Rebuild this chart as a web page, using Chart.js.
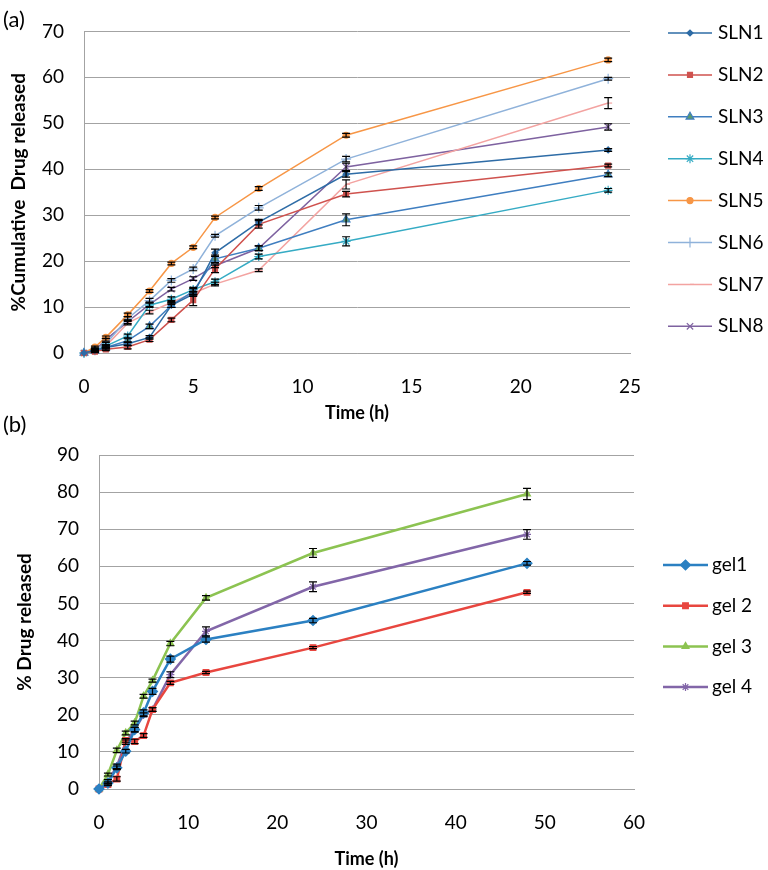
<!DOCTYPE html>
<html>
<head>
<meta charset="utf-8">
<script src="https://cdn.jsdelivr.net/npm/chart.js@4.4.1/dist/chart.umd.min.js"></script>
<style>
  html, body { margin: 0; padding: 0; background: #fff; }
  #wrap { position: relative; width: 768px; height: 870px; overflow: hidden; }
  canvas { position: absolute; left: 0; }
  #c1 { top: 0; }
  #c2 { top: 400px; }
</style>
</head>
<body>
<div id="wrap">
  <canvas id="c1" width="768" height="430"></canvas>
  <canvas id="c2" width="768" height="470"></canvas>
</div>
<script>
// ====== data (a): SLN release ======
const slnTime = [0, 0.5, 1, 2, 3, 4, 5, 6, 8, 12, 24];
const sln1 = [0, 0.6, 1.2, 2.0, 3.4, 10.4, 12.8, 21.8, 28.5, 38.9, 44.2];
const sln2 = [0, 0.3, 0.8, 1.3, 2.9, 7.2, 11.5, 18.3, 28.0, 34.6, 40.8];
const sln3 = [0, 0.5, 1.2, 2.7, 5.8, 10.4, 13.4, 20.5, 22.8, 29.0, 38.8];
const sln4 = [0, 0.5, 1.5, 3.7, 10.4, 11.7, 13.8, 15.5, 21.0, 24.3, 35.4];
const sln5 = [0, 1.3, 3.4, 8.3, 13.5, 19.5, 23.0, 29.5, 35.8, 47.4, 63.8];
const sln6 = [0, 0.8, 2.0, 7.5, 11.4, 15.8, 18.3, 25.5, 31.6, 42.2, 59.7];
const sln7 = [0, 0.4, 1.5, 6.5, 8.9, 11.0, 13.0, 15.0, 18.0, 36.7, 54.4];
const sln8 = [0, 0.6, 2.9, 6.8, 10.6, 13.9, 16.2, 19.0, 22.8, 40.5, 49.2];
const sln1Err = [0, 0.2, 0.3, 0.4, 0.4, 0.5, 0.5, 0.8, 0.6, 0.6, 0.3];
const sln2Err = [0, 0.2, 0.3, 0.4, 0.4, 0.4, 1.2, 0.8, 0.8, 0.6, 0.3];
const sln3Err = [0, 0.2, 0.3, 0.4, 0.5, 0.5, 0.6, 0.8, 0.5, 1.3, 0.4];
const sln4Err = [0, 0.2, 0.3, 0.4, 0.5, 0.5, 0.5, 0.6, 0.5, 1.0, 0.4];
const sln5Err = [0, 0.2, 0.3, 0.4, 0.3, 0.3, 0.3, 0.3, 0.4, 0.4, 0.4];
const sln6Err = [0, 0.2, 0.3, 0.4, 0.5, 0.4, 0.4, 0.3, 0.5, 0.6, 0.3];
const sln7Err = [0, 0.2, 0.3, 0.4, 0.4, 0.4, 0.4, 0.4, 0.3, 1.0, 1.2];
const sln8Err = [0, 0.2, 0.3, 0.4, 0.5, 0.4, 0.4, 0.4, 0.5, 0.8, 0.7];
const slnTicksX = { min: 0, max: 25, step: 5 };
const slnTicksY = { min: 0, max: 70, step: 10 };

// ====== data (b): gel release ======
const gelTime = [0, 1, 2, 3, 4, 5, 6, 8, 12, 24, 48];
const gel1 = [0, 1.6, 5.7, 10.2, 16.0, 20.5, 26.3, 35.0, 40.3, 45.4, 60.8];
const gel2 = [0, 1.2, 2.7, 13.1, 12.8, 14.4, 21.4, 28.6, 31.4, 38.1, 53.0];
const gel3 = [0, 3.9, 10.4, 15.1, 17.8, 25.0, 29.2, 39.2, 51.5, 63.6, 79.5];
const gel4 = [0, 2.0, 6.1, 12.6, 16.0, 20.0, 21.4, 30.8, 42.5, 54.5, 68.6];
const gel1Err = [0, 0.3, 0.5, 0.5, 0.6, 0.8, 0.8, 0.8, 0.7, 0.6, 0.5];
const gel2Err = [0, 0.3, 0.6, 0.5, 0.6, 0.5, 0.5, 0.4, 0.3, 0.3, 0.3];
const gel3Err = [0, 0.4, 0.6, 0.5, 0.5, 0.5, 0.4, 0.6, 0.6, 1.2, 1.5];
const gel4Err = [0, 0.5, 0.6, 0.6, 0.6, 0.5, 0.5, 0.8, 1.2, 1.3, 1.3];
const gelTicksX = { min: 0, max: 60, step: 10 };
const gelTicksY = { min: 0, max: 90, step: 10 };

// ====== helpers ======
const FONT = "Lato, 'Open Sans', sans-serif";
Chart.defaults.font.family = FONT;
Chart.defaults.color = '#000';
const GRID = '#a3a3a3';

const pts = (t, v) => t.map((x, i) => ({ x, y: v[i] }));

function series(label, t, v, err, color, style, radius, lineW, fill) {
  return {
    label, data: pts(t, v), errors: err,
    borderColor: color, backgroundColor: color, borderWidth: lineW,
    pointStyle: style, pointRadius: radius, pointHoverRadius: radius,
    pointBackgroundColor: fill || color, pointBorderColor: color, pointBorderWidth: 1.2,
    tension: 0, fill: false, clip: false
  };
}

// 誤差線
const errorBars = {
  id: 'errorBars',
  afterDatasetsDraw(chart, args, o) {
    const ctx = chart.ctx, ys = chart.scales.y;
    ctx.save();
    ctx.strokeStyle = '#000';
    ctx.lineWidth = o.width || 1.2;
    chart.data.datasets.forEach((ds, i) => {
      if (!ds.errors) return;
      chart.getDatasetMeta(i).data.forEach((p, j) => {
        const e = ds.errors[j];
        if (!e) return;
        const v = ds.data[j].y, c = o.cap || 4;
        const y1 = ys.getPixelForValue(v + e), y2 = ys.getPixelForValue(v - e);
        ctx.beginPath();
        ctx.moveTo(p.x, y1); ctx.lineTo(p.x, y2);
        ctx.moveTo(p.x - c, y1); ctx.lineTo(p.x + c, y1);
        ctx.moveTo(p.x - c, y2); ctx.lineTo(p.x + c, y2);
        ctx.stroke();
      });
    });
    ctx.restore();
  }
};

// 右側圖例（線 + 標記）
const sideLegend = {
  id: 'sideLegend',
  afterDraw(chart, args, o) {
    const ctx = chart.ctx;
    ctx.save();
    chart.data.datasets.forEach((ds, i) => {
      const y = o.top + i * o.step, mx = (o.x1 + o.x2) / 2;
      ctx.strokeStyle = ds.borderColor;
      ctx.lineWidth = ds.borderWidth;
      ctx.beginPath(); ctx.moveTo(o.x1, y); ctx.lineTo(o.x2, y); ctx.stroke();
      ctx.fillStyle = ds.pointBackgroundColor;
      ctx.strokeStyle = ds.pointBorderColor;
      ctx.lineWidth = ds.pointBorderWidth;
      Chart.helpers.drawPoint(ctx, { pointStyle: ds.pointStyle, radius: ds.pointRadius, borderWidth: ds.pointBorderWidth, rotation: 0 }, mx, y);
      ctx.fillStyle = '#000';
      ctx.font = o.font;
      ctx.textBaseline = 'middle';
      ctx.textAlign = 'left';
      ctx.fillText(ds.label, o.tx, y);
    });
    ctx.restore();
  }
};

// (a) / (b)
const panelTag = {
  id: 'panelTag',
  afterDraw(chart, args, o) {
    const ctx = chart.ctx;
    ctx.save();
    ctx.fillStyle = '#000';
    ctx.font = o.font;
    ctx.textBaseline = 'middle';
    ctx.textAlign = 'left';
    ctx.fillText(o.text, o.x, o.y);
    ctx.restore();
  }
};

function axes(tx, ty, xTitle, yTitle, xH, yW, xTitlePad, yTitlePad) {
  return {
    x: {
      type: 'linear', min: tx.min, max: tx.max,
      ticks: { stepSize: tx.step, padding: 22, font: { size: 19 }, color: '#000' },
      grid: { display: false, drawTicks: false },
      border: { color: GRID, width: 1 },
      title: { display: true, text: xTitle, color: '#000', font: { size: 18, weight: 'bold' }, padding: { top: 0, bottom: xTitlePad } },
      afterFit(s) { s.height = xH; }
    },
    y: {
      min: ty.min, max: ty.max,
      ticks: { stepSize: ty.step, padding: 20, font: { size: 19 }, color: '#000' },
      grid: { color: GRID, lineWidth: 1, drawTicks: false },
      border: { color: GRID, width: 1 },
      title: { display: true, text: yTitle, color: '#000', font: { size: 19, weight: 'bold' }, padding: { top: yTitlePad, bottom: 0 } },
      afterFit(s) { s.width = yW; }
    }
  };
}

// ====== chart (a) ======
new Chart(document.getElementById('c1'), {
  type: 'line',
  data: {
    datasets: [
      series('SLN1', slnTime, sln1, sln1Err, '#2e6ca6', 'rectRot', 3, 1.5),
      series('SLN2', slnTime, sln2, sln2Err, '#cf524e', 'rect', 3.5, 1.5),
      series('SLN3', slnTime, sln3, sln3Err, '#3f7ec0', 'triangle', 4.5, 1.5, '#5a9b6e'),
      series('SLN4', slnTime, sln4, sln4Err, '#35abc4', 'star', 4.5, 1.5),
      series('SLN5', slnTime, sln5, sln5Err, '#f79646', 'circle', 3, 1.5),
      series('SLN6', slnTime, sln6, sln6Err, '#8fb2da', 'cross', 5, 1.5),
      series('SLN7', slnTime, sln7, sln7Err, '#f3a3a1', 'dash', 4, 1.5),
      series('SLN8', slnTime, sln8, sln8Err, '#7e62a0', 'crossRot', 4.5, 1.5)
    ]
  },
  options: {
    responsive: false, animation: false, devicePixelRatio: 1,
    layout: { padding: { top: 16, right: 138, bottom: 0, left: 0 } },
    scales: axes(slnTicksX, slnTicksY, 'Time (h)', '%Cumulative  Drug released', 77, 84, 6, 7),
    plugins: {
      legend: { display: false }, tooltip: { enabled: false },
      errorBars: { cap: 4, width: 1.2 },
      sideLegend: { x1: 668, x2: 712, tx: 718, top: 33, step: 41.9, font: `19px ${FONT}` },
      panelTag: { text: '(a)', x: 3, y: 20, font: `22px ${FONT}` }
    }
  },
  plugins: [errorBars, sideLegend, panelTag]
});

// ====== chart (b) ======
new Chart(document.getElementById('c2'), {
  type: 'line',
  data: {
    datasets: [
      series('gel1', gelTime, gel1, gel1Err, '#2b80c2', 'rectRot', 5, 2.5),
      series('gel 2', gelTime, gel2, gel2Err, '#e8463f', 'rect', 4, 2.5),
      series('gel 3', gelTime, gel3, gel3Err, '#8cc351', 'triangle', 4, 2.5),
      series('gel 4', gelTime, gel4, gel4Err, '#8266a8', 'star', 4, 2.5)
    ]
  },
  options: {
    responsive: false, animation: false, devicePixelRatio: 1,
    layout: { padding: { top: 55, right: 134, bottom: 0, left: 0 } },
    scales: axes(gelTicksX, gelTicksY, 'Time (h)', '% Drug released', 81, 99, 0, 13),
    plugins: {
      legend: { display: false }, tooltip: { enabled: false },
      errorBars: { cap: 4, width: 1.2 },
      sideLegend: { x1: 663, x2: 708, tx: 712, top: 165, step: 40.7, font: `19px ${FONT}` },
      panelTag: { text: '(b)', x: 3, y: 25, font: `22px ${FONT}` }
    }
  },
  plugins: [errorBars, sideLegend, panelTag]
});
</script>
</body>
</html>
